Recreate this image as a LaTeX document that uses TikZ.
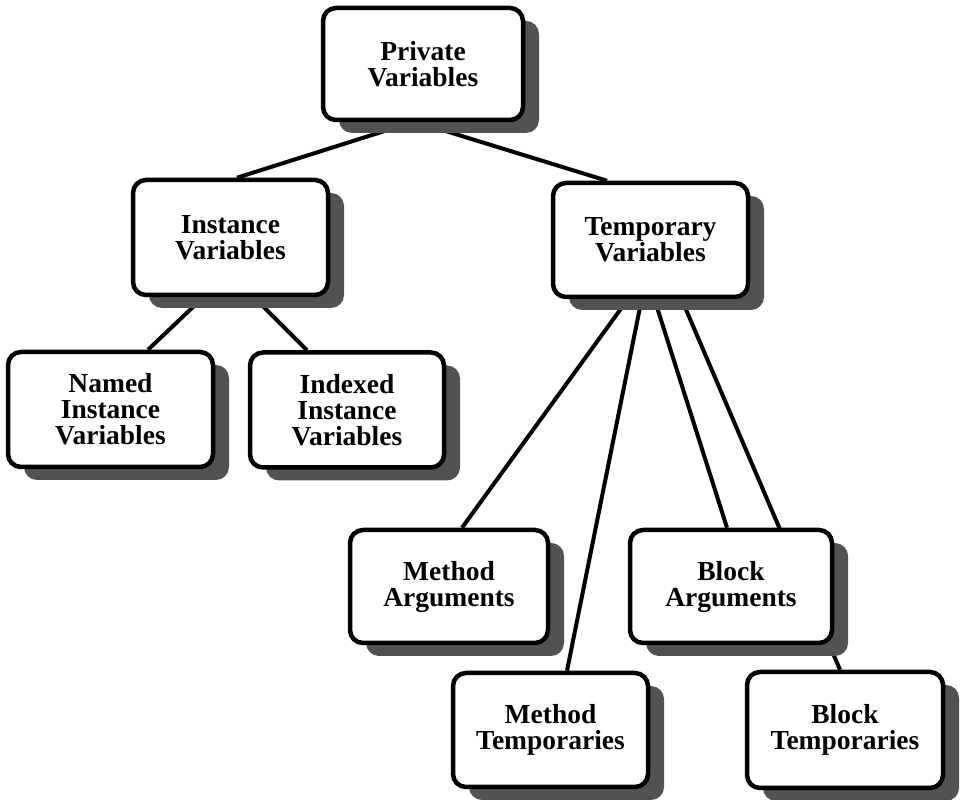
\documentclass[tikz,border=0pt]{standalone}
\usepackage{fontspec}
\setmainfont{Liberation Serif}
\usetikzlibrary{calc,shadows,backgrounds}
\begin{document}
\begin{tikzpicture}[x=1pt,y=1pt,
  box/.style={draw=black, line width=4.5pt, fill=white, rounded corners=13pt,
    minimum width=197pt, minimum height=114pt, inner sep=0pt,
    align=center, font=\fontsize{27.5}{26}\selectfont\bfseries,
    drop shadow={shadow xshift=16pt, shadow yshift=-13pt, fill=black!68, opacity=1, draw=none}},
  link/.style={line width=4pt}]
\useasboundingbox (0,0) rectangle (961,800);
\node[box, minimum width=200pt, minimum height=112pt] (priv) at (423,736) {Private\\Variables};
\node[box, minimum width=195pt, minimum height=115pt] (inst) at (230.5,562.5) {Instance\\Variables};
\node[box, minimum width=195pt] (temp) at (650.5,560) {Temporary\\Variables};
\node[box, minimum width=205pt, minimum height=115pt] (named) at (110.5,390.5) {Named\\Instance\\Variables};
\node[box, minimum width=194pt, minimum height=115pt] (idx) at (347,390) {Indexed\\Instance\\Variables};
\node[box, minimum width=198pt, minimum height=113pt] (marg) at (449,213.5) {Method\\Arguments};
\node[box, minimum width=202pt, minimum height=113pt] (barg) at (731,213.5) {Block\\Arguments};
\node[box, minimum width=195pt] (mtmp) at (550.5,70) {Method\\Temporaries};
\node[box, minimum width=196pt, minimum height=116pt] (btmp) at (845,70) {Block\\Temporaries};
\begin{scope}[on background layer]
\draw[link] ($(priv.south)+(-36,-8)$) -- ($(inst.north)+(6.5,0)$);
\draw[link] ($(priv.south)+(20,-8)$) -- ($(temp.north)+(-43.5,0)$);
\draw[link] ($(inst.south)+(-33.5,-6)$) -- ($(named.north)+(37.5,0)$);
\draw[link] ($(inst.south)+(29.5,-6)$) -- ($(idx.north)+(-40,0)$);
\draw[link] ($(temp.south)+(-28.5,-8)$) -- ($(marg.north)+(13,0)$);
\draw[link] ($(temp.south)+(-10.5,-8)$) -- ($(mtmp.north)+(16.5,0)$);
\draw[link] ($(temp.south)+(6.5,-8)$) -- ($(barg.north)+(-4,0)$);
\draw[link] ($(temp.south)+(34.5,-8)$) -- ($(btmp.north)+(-5,0)$);
\end{scope}
\end{tikzpicture}
\end{document}
